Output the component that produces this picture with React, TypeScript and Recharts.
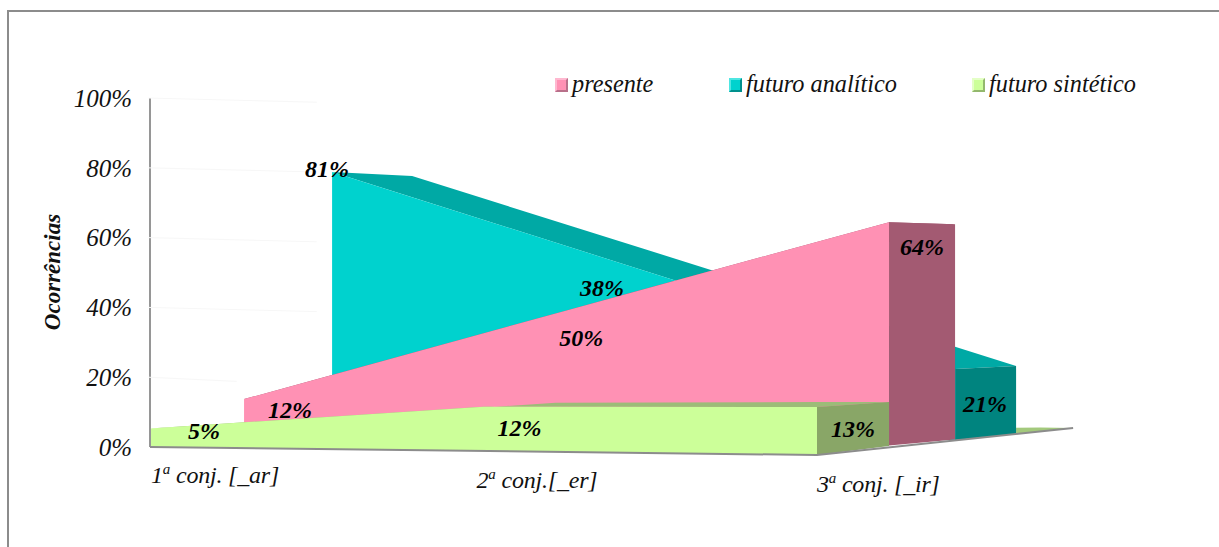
import {
  Area,
  ComposedChart,
  LabelList,
  Legend,
  Line,
  ReferenceLine,
  XAxis,
  YAxis
} from "recharts";

const categories = ["1", "2", "3"];
const categoryRest = [" conj. [_ar]", " conj.[_er]", " conj. [_ir]"];
const yTicks = [0, 20, 40, 60, 80, 100];

const presente = [12, 38, 64];
const futuroAnalitico = [81, 50, 21];
const futuroSintetico = [5, 12, 13];

const seriesNames = ["presente", "futuro analítico", "futuro sintético"];

const FONT = "'Liberation Serif', 'Times New Roman', serif";
const WIDTH = 1219;
const HEIGHT = 547;
const LEGEND_HEIGHT = 30;

// the axes run past the marks so the fake perspective can lean out of the 0-100 box
const X_DOMAIN: [number, number] = [-0.03, 2.8486];
const Y_DOMAIN: [number, number] = [-3.725, 110.9];

type Pt = [number, number];

// one slab of the pseudo 3D chart, in axis units
type Slab = {
  values: number[];
  catStart: number;
  catEnd: number;
  floor: number[];
  yScale: number;
  depthStart: Pt;
  depthEnd: Pt;
  floorRise: number;
  labelShift: Pt[];
  colors: { front: string; top: string; side: string };
};

const verde: Slab = {
  values: futuroSintetico,
  catStart: 0,
  catEnd: 2,
  floor: [0, -1.15, -2.3],
  yScale: 1.06,
  depthStart: [0.216, 0.86],
  depthEnd: [0.216, 1.43],
  floorRise: 2.6,
  labelShift: [[0.162, -0.43], [0.108, -6.0], [0.108, -6.3]],
  colors: { front: "#ccff99", top: "#9cbc78", side: "#89a667" }
};

const rosa: Slab = {
  values: presente,
  catStart: 0.282,
  catEnd: 2.216,
  floor: [1.72, 1.15, 0.43],
  yScale: 1,
  depthStart: [0.198, -0.57],
  depthEnd: [0.198, -0.57],
  floorRise: 1.72,
  labelShift: [[0.138, -2.87], [0.106, 6.45], [0.099, -6.88]],
  colors: { front: "#ff91b4", top: "#a35a72", side: "#a35a72" }
};

const teal: Slab = {
  values: futuroAnalitico,
  catStart: 0.546,
  catEnd: 2.414,
  floor: [0.23, 2.1, 1.98],
  yScale: 0.97,
  depthStart: [0.24, -1.15],
  depthEnd: [0.183, 0.86],
  floorRise: 1.72,
  labelShift: [[-0.015, 1.15], [-0.187, -19.3], [0.09, -9.74]],
  colors: { front: "#00d2ce", top: "#00a9a5", side: "#00847f" }
};

const interp = (poly: Pt[], x: number) => {
  for (let i = 1; i < poly.length; i++) {
    const [x0, y0] = poly[i - 1];
    const [x1, y1] = poly[i];
    if (x <= x1) return x1 === x0 ? y1 : y0 + ((y1 - y0) * (x - x0)) / (x1 - x0);
  }
  return poly[poly.length - 1][1];
};

// Area takes [low, high] pairs, so every face becomes a band between two polylines
const band = (lower: Pt[], upper: Pt[]) => {
  const xs = Array.from(new Set([...lower, ...upper].map((p) => p[0]))).sort((a, b) => a - b);
  return xs.map((x) => ({ x, range: [interp(lower, x), interp(upper, x)] }));
};

const slabFaces = (s: Slab) => {
  const n = s.values.length - 1;
  const catAt = (i: number) => s.catStart + ((s.catEnd - s.catStart) * i) / n;
  const front: Pt[] = s.values.map((v, i) => [catAt(i), s.floor[i] + s.yScale * v]);
  const bottom: Pt[] = s.values.map((_, i) => [catAt(i), s.floor[i]]);
  const back: Pt[] = front.map(([x, y], i) => {
    const t = i / n;
    return [
      x + s.depthStart[0] + (s.depthEnd[0] - s.depthStart[0]) * t,
      y + s.depthStart[1] + (s.depthEnd[1] - s.depthStart[1]) * t
    ];
  });
  const lastFront = front[n];
  const lastBack = back[n];
  return {
    top: band([...front, lastBack], [front[0], ...back]),
    side: band(
      [bottom[n], [lastBack[0], bottom[n][1] + s.floorRise]],
      [lastFront, lastBack]
    ),
    front: band(bottom, front),
    labels: front.map(([x, y], i) => ({
      x: x + s.labelShift[i][0],
      y: y + s.labelShift[i][1],
      text: `${s.values[i]}%`
    }))
  };
};

const slabs = [teal, rosa, verde];
const faces = slabs.map(slabFaces);

const floorEdge = [
  { x: 0, y: 0 },
  { x: 2, y: -2.3 },
  { x: 2.768, y: 5.44 }
];

const floorWedge = band(
  [[2.597, 3.72], [2.768, 5.44]],
  [[2.597, 5.53], [2.67, 5.6], [2.768, 5.44]]
);

const legendColors = [
  { fill: "#ff91b4", light: "#ffb8d0", dark: "#b8708a" },
  { fill: "#00d2ce", light: "#4fe6e2", dark: "#00908d" },
  { fill: "#ccff99", light: "#e4ffc6", dark: "#93b86d" }
];
const legendSlots = [555, 729, 972];

const renderLegend = () => (
  <div style={{ position: "relative", width: WIDTH, height: LEGEND_HEIGHT, fontFamily: FONT }}>
    {seriesNames.map((name, i) => (
      <div key={name}>
        <div
          style={{
            position: "absolute",
            left: legendSlots[i],
            top: 78,
            width: 9,
            height: 10,
            background: legendColors[i].fill,
            borderTop: `2px solid ${legendColors[i].light}`,
            borderLeft: `2px solid ${legendColors[i].light}`,
            borderRight: `2px solid ${legendColors[i].dark}`,
            borderBottom: `2px solid ${legendColors[i].dark}`
          }}
        />
        <span
          style={{
            position: "absolute",
            left: legendSlots[i] + 17,
            top: 70,
            fontSize: 24.3,
            lineHeight: "28px",
            fontStyle: "italic",
            color: "#111",
            whiteSpace: "nowrap"
          }}
        >
          {name}
        </span>
      </div>
    ))}
  </div>
);

const tickShift = [
  { dx: 1, baseline: 483 },
  { dx: -7, baseline: 488 },
  { dx: 0, baseline: 492 }
];

const CategoryTick = ({ x, payload }: any) => {
  const i = payload.index ?? payload.value;
  const { dx, baseline } = tickShift[i];
  return (
    <text
      x={x + dx}
      y={baseline}
      fontFamily={FONT}
      fontStyle="italic"
      fontSize={24}
      letterSpacing={-0.2}
      fill="#111"
      textAnchor="start"
    >
      <tspan>{categories[i]}</tspan>
      <tspan fontSize={15} dy={-9}>a</tspan>
      <tspan dy={9}>{categoryRest[i]}</tspan>
    </text>
  );
};

export default function App() {
  return (
    <div style={{ position: "absolute", left: 0, top: 0, width: WIDTH, height: HEIGHT, background: "#fff", overflow: "hidden" }}>
      <div
        style={{
          position: "absolute",
          left: 7,
          top: 10,
          right: -4,
          bottom: -4,
          borderTop: "2px solid #8c8c8c",
          borderLeft: "2px solid #8c8c8c"
        }}
      />
      <ComposedChart
        width={WIDTH}
        height={HEIGHT}
        margin={{ top: 60 - LEGEND_HEIGHT, right: 119, bottom: 57, left: 0 }}
        style={{ position: "absolute", left: 0, top: 0 }}
      >
        <XAxis
          xAxisId={0}
          type="number"
          dataKey="x"
          domain={X_DOMAIN}
          ticks={[0, 1, 2]}
          interval={0}
          allowDataOverflow={false}
          axisLine={false}
          tickLine={false}
          tick={<CategoryTick />}
          height={30}
        />
        <YAxis
          yAxisId={0}
          type="number"
          domain={Y_DOMAIN}
          ticks={yTicks}
          interval={0}
          width={140}
          axisLine={false}
          tickLine={false}
          tickMargin={2}
          tickFormatter={(v: number) => `${v}%`}
          tick={{ fontFamily: FONT, fontStyle: "italic", fontSize: 25, fill: "#111" }}
          label={{
            value: "Ocorrências",
            angle: -90,
            position: "insideLeft",
            offset: 52,
            dy: 12,
            style: { fontFamily: FONT, fontStyle: "italic", fontWeight: "bold", fontSize: 23, fill: "#111", textAnchor: "middle" }
          }}
        />
        <Legend content={renderLegend} wrapperStyle={{ left: 0, top: 0, width: WIDTH }} verticalAlign="top" />

        <ReferenceLine segment={[{ x: 0, y: 0 }, { x: 0, y: 100 }]} stroke="#969696" strokeWidth={2} />
        {/* faint wall lines, stopped short of the slabs because they paint above the areas */}
        {yTicks.slice(1).map((t) => (
          <ReferenceLine
            key={t}
            segment={[{ x: -0.005, y: t }, { x: t === 20 ? 0.26 : 0.5, y: t - 1.2 }]}
            stroke="#f7f7f7"
          />
        ))}

        <Area
          data={floorWedge}
          dataKey="range"
          fill="#a3c97c"
          fillOpacity={1}
          stroke="none"
          dot={false}
          activeDot={false}
          isAnimationActive={false}
          legendType="none"
        />
        {slabs.map((s, i) =>
          (["top", "side", "front"] as const).map((part) => (
            <Area
              key={`${i}-${part}`}
              data={faces[i][part]}
              dataKey="range"
              fill={s.colors[part]}
              fillOpacity={1}
              stroke="none"
              dot={false}
              activeDot={false}
              isAnimationActive={false}
              legendType="none"
            />
          ))
        )}

        <Line
          data={floorEdge}
          dataKey="y"
          stroke="#8c8c8c"
          strokeWidth={2}
          dot={false}
          activeDot={false}
          isAnimationActive={false}
          legendType="none"
        />
        {faces.map((f, i) => (
          <Line
            key={i}
            data={f.labels}
            dataKey="y"
            stroke="none"
            dot={false}
            activeDot={false}
            isAnimationActive={false}
            legendType="none"
          >
            <LabelList
              dataKey="text"
              position="center"
              fontFamily={FONT}
              fontStyle="italic"
              fontWeight="bold"
              fontSize={24}
              fill="#000"
            />
          </Line>
        ))}
      </ComposedChart>
    </div>
  );
}
